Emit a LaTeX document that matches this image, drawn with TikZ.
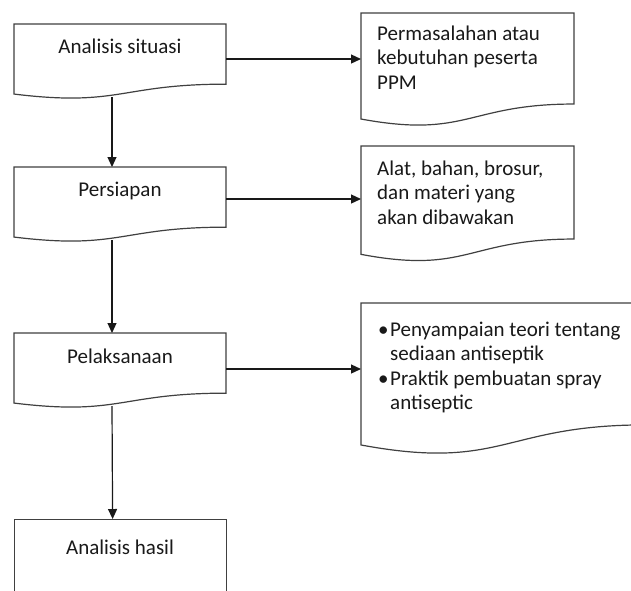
\documentclass[tikz,border=0pt]{standalone}
\usepackage{fontspec}
\setmainfont{Carlito}
\usetikzlibrary{arrows.meta,calc}
\tikzset{
  shapeline/.style={draw=black!75, line width=1.2pt},
  arr/.style={draw=black!90, line width=1.2pt, -{Triangle[length=10pt,width=9pt]}},
  lbl/.style={font=\fontsize{21}{24.5}\selectfont, text=black!90, inner sep=0pt, anchor=base},
  doctext/.style={lbl, anchor=base west},
}
\newcommand\docshape[5]{%
  \node[inner sep=0pt, outer sep=0pt, minimum width=#4, minimum height=#5, anchor=north west] (#1) at (#2,#3) {};
  \draw[shapeline] (#1.north west) -- (#1.north east) -- ($(#1.north east)+(0,0.802*#5)$)
    .. controls ($(#1.north west)+(0.5*#4,0.802*#5)$) and ($(#1.north west)+(0.5*#4,1.1075*#5)$)
    .. ($(#1.north west)+(0,0.934*#5)$) -- cycle;
}
\newcommand\doclines[1]{\parbox[t]{260pt}{\raggedright #1}}
\begin{document}
\begin{tikzpicture}[x=1pt,y=-1pt]
\useasboundingbox (0,0) rectangle (631,590);
\clip (0,0) rectangle (631,590);
\fill[white] (0,0) rectangle (631,590);
% left column
\docshape{b1}{14}{24}{212}{75}
\docshape{b2}{14}{167}{212}{75}
\docshape{b3}{14}{333}{212}{75}
\node[shapeline, rectangle, inner sep=0pt, minimum width=212, minimum height=90, anchor=north west] (b4) at (14,519) {};
% right column
\docshape{d1}{361}{13}{213}{113.5}
\docshape{d2}{361}{146}{213}{116}
\docshape{d3}{361}{303}{284}{152}
% texts
\node[lbl] (t1) at (120,53) {Analisis situasi};
\node[lbl] (t2) at (120,196) {Persiapan};
\node[lbl] (t3) at (120,363) {Pelaksanaan};
\node[lbl] (t4) at (120,554) {Analisis hasil};
\node[doctext] (u1) at (377,40) {\doclines{Permasalahan atau\\kebutuhan peserta\\PPM}};
\node[doctext] (u2) at (377,175) {\doclines{Alat, bahan, brosur,\\dan materi yang\\akan dibawakan}};
\node[doctext] (u3) at (378,336) {\doclines{\makebox[12pt][l]{\textbullet}Penyampaian teori tentang\\\hspace*{12pt}sediaan antiseptik\\\makebox[12pt][l]{\textbullet}Praktik pembuatan spray\\\hspace*{12pt}antiseptic}};
% horizontal arrows
\coordinate (a1) at ([yshift=2.5pt]b1.east);
\coordinate (a2) at ([yshift=5.5pt]b2.east);
\coordinate (a3) at ([yshift=1.5pt]b3.east);
\draw[arr] (a1) -- (a1 -| d1.west);
\draw[arr] (a2) -- (a2 -| d2.west);
\draw[arr] (a3) -- (a3 -| d3.west);
% vertical arrows
\draw[arr] ([xshift=-8pt,yshift=2pt]b1.south) -- ([xshift=-8pt]b2.north);
\draw[arr] ([xshift=-8pt,yshift=2pt]b2.south) -- ([xshift=-8pt]b3.north);
\draw[arr] ([xshift=-8pt,yshift=2pt]b3.south) -- ([xshift=-8pt]b4.north);
\end{tikzpicture}
\end{document}
